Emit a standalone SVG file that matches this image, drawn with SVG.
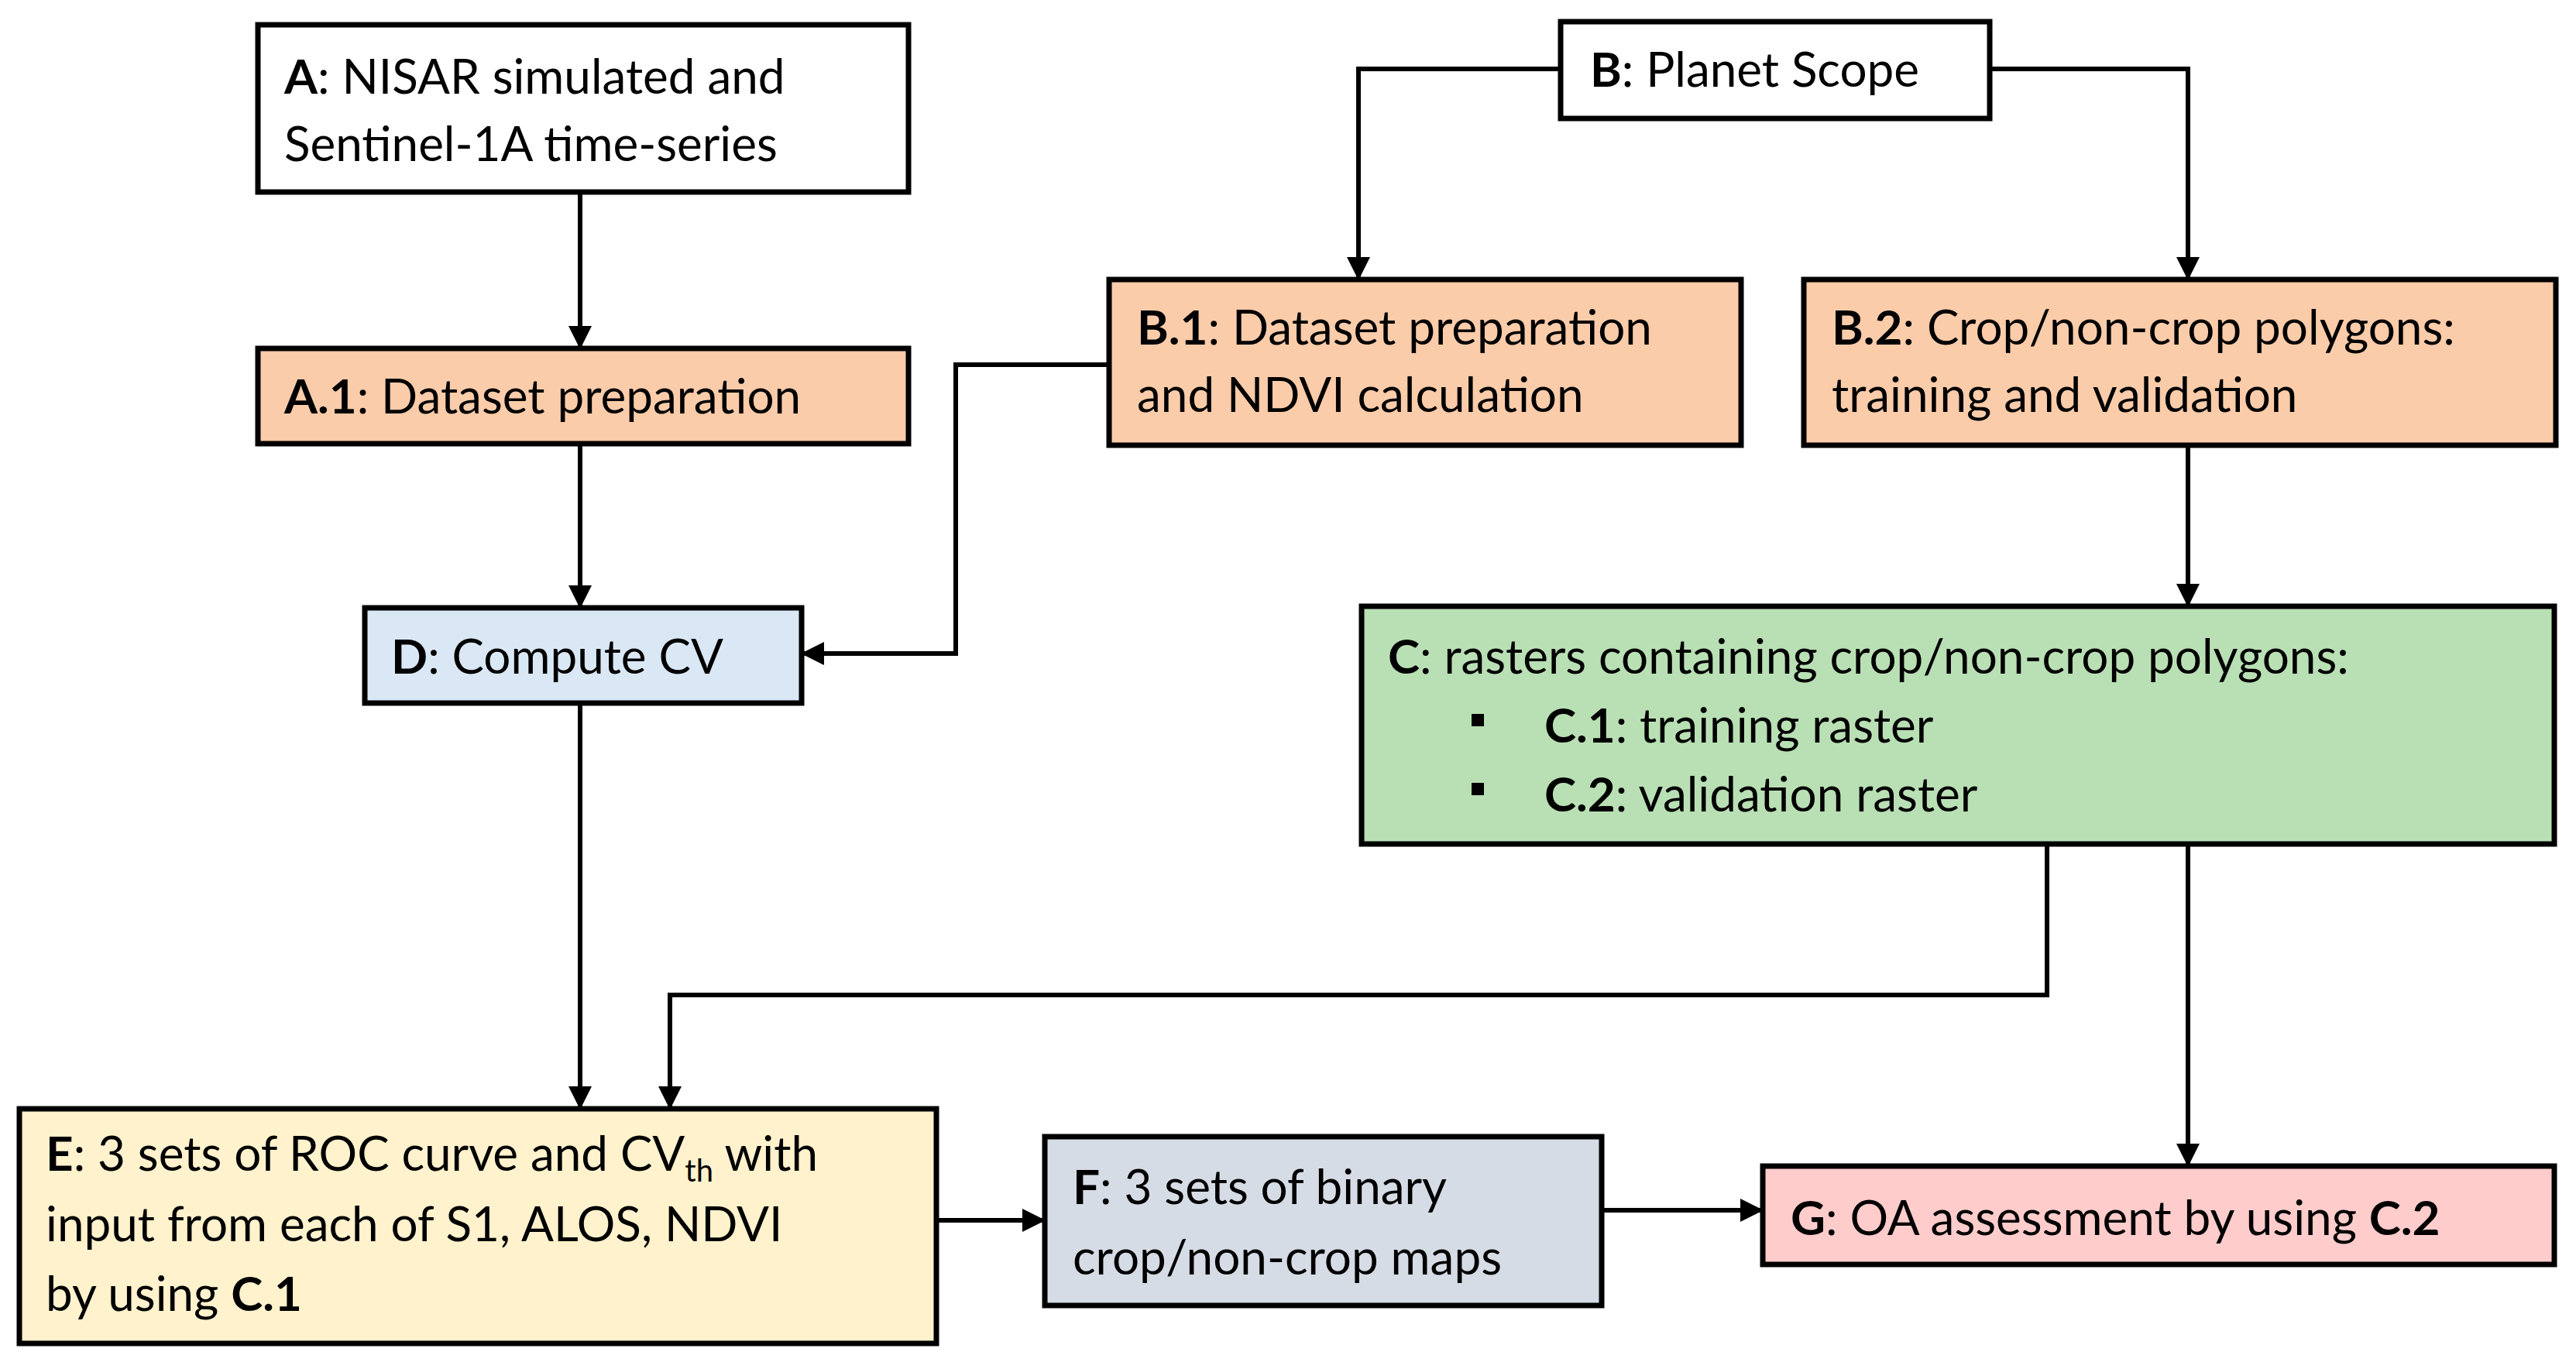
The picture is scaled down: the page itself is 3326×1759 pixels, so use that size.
<svg xmlns="http://www.w3.org/2000/svg" width="3326" height="1759" viewBox="0 0 3326 1759">
<style>
.b{stroke:#000;stroke-width:7}
text{font-family:Lato,"Open Sans",sans-serif;font-size:62px;fill:#000}
tspan.k{font-weight:bold}
.c{fill:none;stroke:#000;stroke-width:6}
</style>
<defs><marker id="ah" viewBox="0 0 10 10" refX="9" refY="5" markerWidth="5" markerHeight="5" orient="auto" markerUnits="strokeWidth"><path d="M0,0L10,5L0,10z" fill="#000"/></marker></defs>
<rect width="3326" height="1759" fill="#fff"/>
<g id="connectors">
<path class="c" marker-end="url(#ah)" d="M749,248V448"/>
<path class="c" marker-end="url(#ah)" d="M749,573V783"/>
<path class="c" marker-end="url(#ah)" d="M1432,471H1234V844H1037"/>
<path class="c" marker-end="url(#ah)" d="M2015,89H1754V359"/>
<path class="c" marker-end="url(#ah)" d="M2569,89H2825V359"/>
<path class="c" marker-end="url(#ah)" d="M2825,575V781"/>
<path class="c" marker-end="url(#ah)" d="M749,908V1430"/>
<path class="c" marker-end="url(#ah)" d="M2643,1090V1285H865V1430"/>
<path class="c" marker-end="url(#ah)" d="M2825,1090V1504"/>
<path class="c" marker-end="url(#ah)" d="M1209,1576H1347"/>
<path class="c" marker-end="url(#ah)" d="M2068,1563H2274"/>
</g>
<g id="A"><rect class="b" x="333" y="32" width="840" height="216" fill="#fff"/><text x="367" y="121"><tspan class="k">A</tspan>: NISAR simulated and</text><text x="367" y="208">Sentinel-1A time-series</text></g>
<g id="B"><rect class="b" x="2015" y="28" width="554" height="125" fill="#fff"/><text x="2053" y="112"><tspan class="k">B</tspan>: Planet Scope</text></g>
<g id="A1"><rect class="b" x="333" y="450" width="840" height="123" fill="#FBCCAA"/><text x="367" y="534"><tspan class="k">A.1</tspan>: Dataset preparation</text></g>
<g id="B1"><rect class="b" x="1432" y="361" width="816" height="214" fill="#FBCCAA"/><text x="1468" y="445"><tspan class="k">B.1</tspan>: Dataset preparation</text><text x="1468" y="532">and NDVI calculation</text></g>
<g id="B2"><rect class="b" x="2329" y="361" width="971" height="214" fill="#FBCCAA"/><text x="2365" y="445"><tspan class="k">B.2</tspan>: Crop/non-crop polygons:</text><text x="2365" y="532">training and validation</text></g>
<g id="D"><rect class="b" x="471" y="785" width="564" height="123" fill="#DAE8F5"/><text x="505" y="870"><tspan class="k">D</tspan>: Compute CV</text></g>
<g id="C"><rect class="b" x="1758" y="783" width="1540" height="307" fill="#B9E0B4"/><text x="1792" y="870"><tspan class="k">C</tspan>: rasters containing crop/non-crop polygons:</text><rect x="1900" y="922" width="16" height="16"/><rect x="1900" y="1011" width="16" height="16"/><text x="1994" y="959"><tspan class="k">C.1</tspan>: training raster</text><text x="1994" y="1048"><tspan class="k">C.2</tspan>: validation raster</text></g>
<g id="E"><rect class="b" x="25" y="1432" width="1184" height="303" fill="#FFF2CC"/><text x="59" y="1512"><tspan class="k">E</tspan>: 3 sets of ROC curve and CV<tspan font-size="40" dy="14">th</tspan><tspan dy="-14"> with</tspan></text><text x="59" y="1603">input from each of S1, ALOS, NDVI</text><text x="59" y="1693">by using <tspan class="k">C.1</tspan></text></g>
<g id="F"><rect class="b" x="1349" y="1468" width="719" height="218" fill="#D6DCE5"/><text x="1385" y="1555"><tspan class="k">F</tspan>: 3 sets of binary</text><text x="1385" y="1646">crop/non-crop maps</text></g>
<g id="G"><rect class="b" x="2276" y="1506" width="1022" height="127" fill="#FFCCCC"/><text x="2312" y="1595"><tspan class="k">G</tspan>: OA assessment by using <tspan class="k">C.2</tspan></text></g>
</svg>
